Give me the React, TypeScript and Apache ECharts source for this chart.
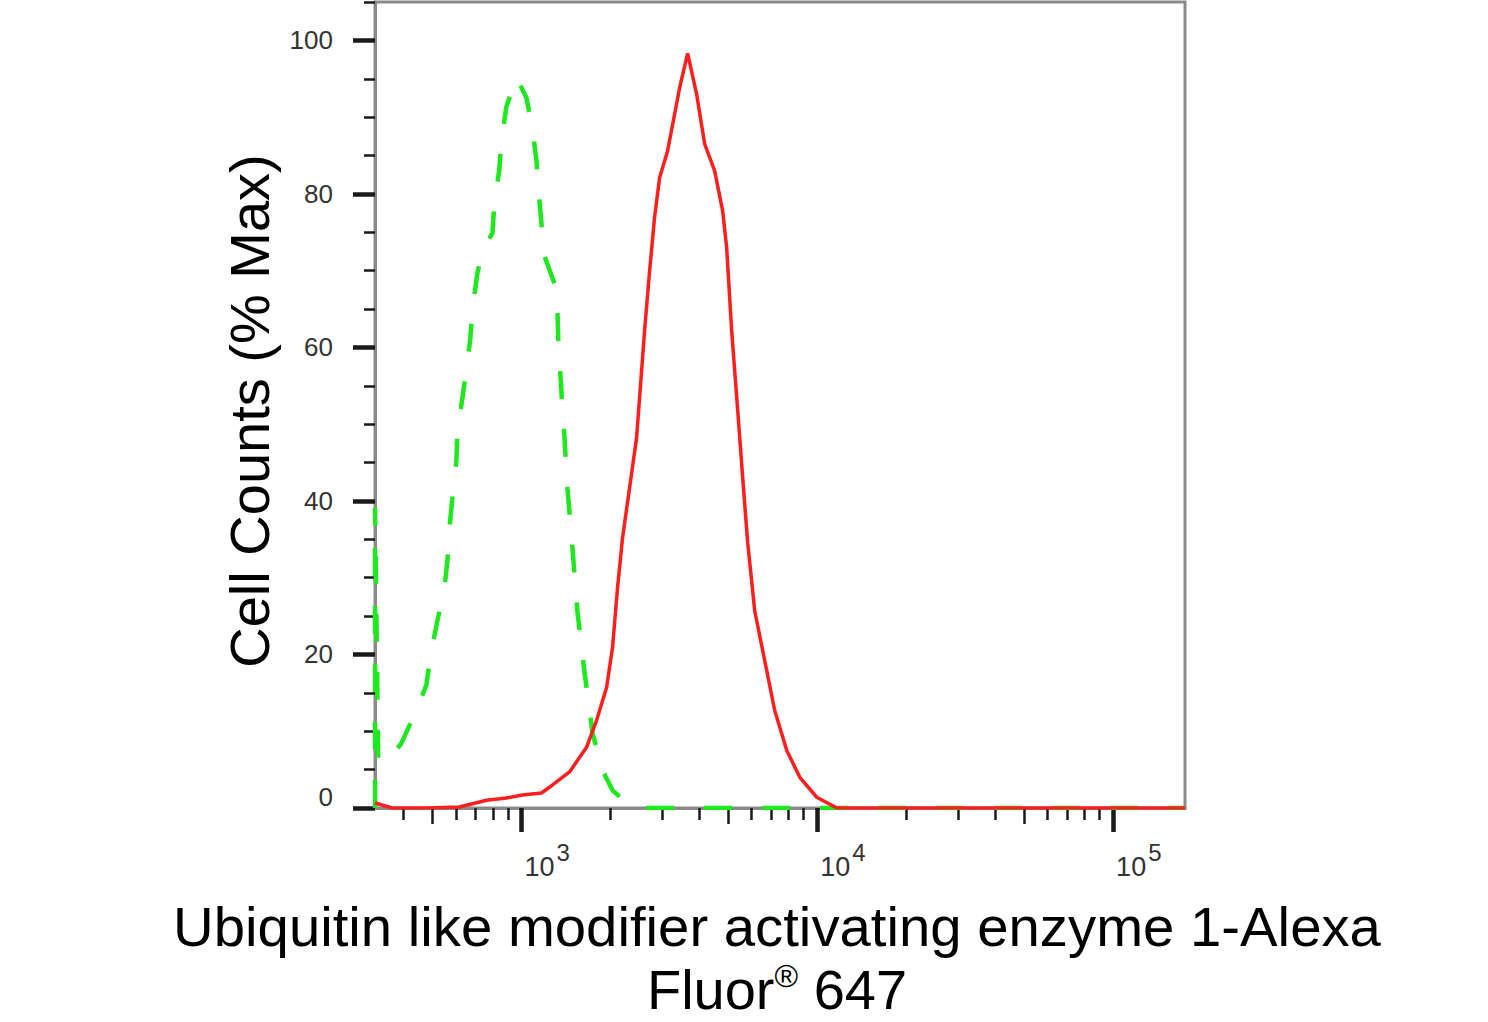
import { useEffect, useRef } from "react";
import * as echarts from "echarts";

// Flow histogram, % of max vs fluorescence (log x)
// stained sample (red, solid)
const redX = [320, 366, 477, 617, 762, 890, 1008, 1169, 1274, 1454, 1660, 1794, 1940, 2032, 2113, 2197, 2320, 2450, 2608, 2712, 2818, 2931, 3119, 3425, 3646, 3910, 4163, 4499, 4788, 4940, 5136, 5383, 5597, 5820, 6145, 6643, 7181, 7886, 8728, 9961, 11640, 175000];
const redY = [0.65, 0, 0, 0.13, 1.0, 1.3, 1.7, 1.95, 3.0, 4.7, 7.9, 11.4, 15.7, 20.9, 28.7, 35.2, 41.7, 48.2, 62.2, 70.0, 76.9, 82.1, 85.6, 93.8, 98.3, 93.0, 86.5, 83.0, 77.8, 73.0, 62.2, 51.8, 43.0, 34.5, 25.7, 19.2, 12.7, 7.5, 4.0, 1.4, 0, 0];

// isotype control (green, dashed)
const greenX = [320, 320, 328, 349, 393, 441, 477, 496, 520, 549, 562, 571, 584, 603, 607, 631, 651, 672, 683, 710, 738, 798, 810, 842, 855, 890, 962, 1040, 1089, 1124, 1142, 1169, 1187, 1293, 1324, 1334, 1355, 1376, 1398, 1431, 1488, 1547, 1634, 1739, 1879, 2032, 2266, 2508, 175000];
const greenY = [0, 39.1, 6.2, 5.85, 8.45, 12.7, 16.0, 20.5, 24.4, 28.6, 32.2, 36.5, 40.3, 45.3, 48.8, 53.3, 57.0, 61.2, 65.0, 69.7, 72.6, 74.9, 78.7, 83.2, 86.9, 91.4, 95.2, 92.5, 88.6, 84.3, 80.6, 76.1, 72.3, 68.3, 64.5, 60.2, 56.3, 52.0, 48.2, 41.6, 33.8, 25.5, 17.7, 9.75, 4.9, 2.3, 0.65, 0, 0];

const yLabels = [0, 20, 40, 60, 80, 100];
const yMinor = [5, 10, 15, 25, 30, 35, 45, 50, 55, 65, 70, 75, 85, 90, 95, 105];
const xDecades = [3, 4, 5]; // labelled 10^n
const xDecadeRange = [2, 3, 4, 5];
const xMinorMult = [2, 3, 4, 6, 7, 8, 9];

const X_MIN = 2.505; // log10 ends of the axis
const X_MAX = 5.243;
const Y_MAX = 105;

const FONT = '"Liberation Sans", Arial, Helvetica, sans-serif';
const NARROW = '"Liberation Sans Narrow", "Arial Narrow", "Liberation Sans", Arial, sans-serif';
const TICK = "#1a1a1a";
const FRAME = "#8a8a8a";

const inRange = (v: number) => v >= X_MIN && v <= X_MAX;
const xMinor = xDecadeRange
  .flatMap((d) => xMinorMult.map((m) => Math.log10(m * 10 ** d)))
  .filter(inRange);
const xFive = xDecadeRange.map((d) => Math.log10(5 * 10 ** d)).filter(inRange);

const xTickAxis = (vals: number[], len: number, w: number) => ({
  type: "value",
  gridIndex: 0,
  position: "bottom",
  min: X_MIN,
  max: X_MAX,
  axisLine: { show: false, onZero: false },
  axisTick: { show: true, customValues: vals, length: len, lineStyle: { color: TICK, width: w } },
  axisLabel: { show: false },
  splitLine: { show: false },
});

export default function App() {
  const ref = useRef<HTMLDivElement>(null);

  useEffect(() => {
    if (!ref.current) return;
    const chart = echarts.init(ref.current, null, { renderer: "svg" });
    chart.setOption({
      animation: false,
      grid: {
        left: 375,
        right: 303,
        top: 2,
        bottom: 214,
        show: true,
        borderColor: FRAME,
        borderWidth: 3,
      },
      xAxis: [
        {
          type: "value",
          position: "bottom",
          min: X_MIN,
          max: X_MAX,
          axisLine: { show: true, onZero: false, lineStyle: { color: FRAME, width: 3 } },
          axisTick: { show: true, customValues: xDecades, length: 24, lineStyle: { color: TICK, width: 4.5 } },
          axisLabel: {
            show: true,
            customValues: xDecades,
            align: "left",
            margin: 32,
            formatter: (v: number) => `{b|10}{s|${Math.round(v)}}`,
            rich: {
              b: { fontSize: 27, fontFamily: NARROW, color: "#333", padding: [0, 0, 0, 3] },
              s: { fontSize: 24, fontFamily: NARROW, color: "#333", padding: [0, 0, 30, 2] },
            },
          },
          splitLine: { show: false },
        },
        xTickAxis(xMinor, 12, 2.5),
        xTickAxis(xFive, 16, 2.5),
      ],
      yAxis: [
        {
          type: "value",
          min: 0,
          max: Y_MAX,
          axisLine: { show: true, onZero: false, lineStyle: { color: FRAME, width: 3 } },
          axisTick: { show: true, customValues: yLabels, length: 22, lineStyle: { color: TICK, width: 4.5 } },
          axisLabel: {
            show: true,
            customValues: yLabels,
            margin: 42,
            formatter: (v: number) => (v === 0 ? "{z|0}" : `{n|${v}}`),
            rich: {
              n: { fontSize: 26, fontFamily: NARROW, color: "#333" },
              z: { fontSize: 26, fontFamily: NARROW, color: "#333", padding: [0, 0, 22, 0] },
            },
          },
          splitLine: { show: false },
        },
        {
          type: "value",
          position: "left",
          min: 0,
          max: Y_MAX,
          axisLine: { show: false, onZero: false },
          axisTick: { show: true, customValues: yMinor, length: 11, lineStyle: { color: TICK, width: 2.5 } },
          axisLabel: { show: false },
          splitLine: { show: false },
        },
      ],
      series: [
        {
          name: "control",
          type: "line",
          xAxisIndex: 0,
          yAxisIndex: 0,
          symbol: "none",
          silent: true,
          data: greenX.map((x, i) => [Math.log10(x), greenY[i]]),
          lineStyle: { color: "#1ee81e", width: 4.5, type: [28, 30] },
        },
        {
          name: "sample",
          type: "line",
          xAxisIndex: 0,
          yAxisIndex: 0,
          symbol: "none",
          silent: true,
          data: redX.map((x, i) => [Math.log10(x), redY[i]]),
          lineStyle: { color: "#ff1e1e", width: 3.5 },
        },
      ],
      graphic: [
        {
          type: "text",
          x: 249,
          y: 411,
          rotation: Math.PI / 2,
          style: {
            text: "Cell Counts (% Max)",
            fontSize: 56,
            fontFamily: FONT,
            fill: "#000",
            align: "center",
            verticalAlign: "middle",
          },
        },
        {
          type: "text",
          x: 777,
          y: 926,
          style: {
            text: "Ubiquitin like modifier activating enzyme 1-Alexa",
            fontSize: 56.3,
            fontFamily: FONT,
            fill: "#000",
            align: "center",
            verticalAlign: "middle",
          },
        },
        {
          type: "text",
          x: 777,
          y: 989,
          style: {
            text: "{n|Fluor}{r|®}{n| 647}",
            align: "center",
            verticalAlign: "middle",
            rich: {
              n: { fontSize: 56, fontFamily: FONT, fill: "#000" },
              r: { fontSize: 32, fontFamily: FONT, fill: "#000", padding: [0, 0, 26, 0] },
            },
          },
        },
      ],
    });
    return () => chart.dispose();
  }, []);

  return (
    <div
      ref={ref}
      style={{ position: "fixed", left: 0, top: 0, width: 1488, height: 1022, background: "#fff" }}
    />
  );
}
